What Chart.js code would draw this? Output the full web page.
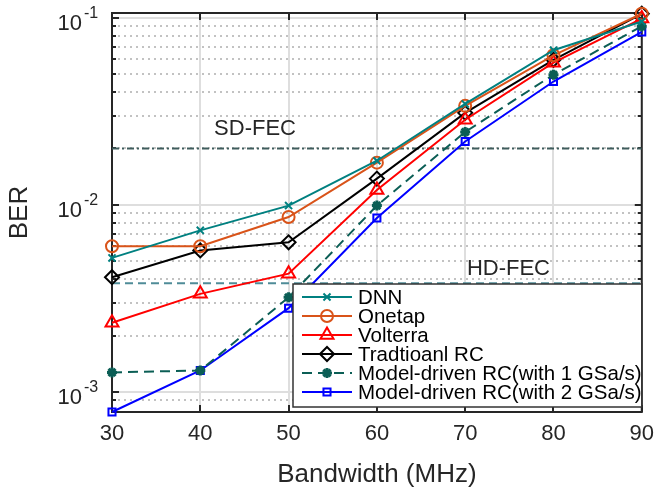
<!DOCTYPE html>
<html>
<head>
<meta charset="utf-8">
<script src="https://cdn.jsdelivr.net/npm/chart.js@4.4.1/dist/chart.umd.min.js"></script>
<style>
  html, body { margin: 0; padding: 0; background: #fff; }
</style>
</head>
<body>
<canvas id="berchart" width="663" height="491"></canvas>
<script>
// ---- data ----
var bandwidth = [30, 40, 50, 60, 70, 80, 90];
var berDNN      = [0.0052, 0.0073, 0.0099, 0.0172, 0.0346, 0.0670, 0.0955];
var berOnetap   = [0.0060, 0.0060, 0.0086, 0.0168, 0.0338, 0.0630, 0.1050];
var berVolterra = [0.00234, 0.00334, 0.00428, 0.0120, 0.0285, 0.0575, 0.0990];
var berTradRC   = [0.0041, 0.0057, 0.0063, 0.0138, 0.0310, 0.0596, 0.1050];
var berMD1      = [0.00127, 0.00130, 0.0032, 0.0099, 0.0245, 0.0496, 0.0900];
var berMD2      = [0.00078, 0.00130, 0.0028, 0.0085, 0.0218, 0.0456, 0.0840];
var sdFEC = 0.02;
var hdFEC = 0.0038;
var yTickValues = [1e-3, 1e-2, 1e-1];
var yTickExps = ['-3', '-2', '-1'];

var FONT = "'Liberation Sans', Arial, Helvetica, sans-serif";
var TXT = '#262626';

function pts(arr) {
    return bandwidth.map(function (b, i) { return { x: b, y: arr[i] }; });
}
function flat(v) {
    return [{ x: bandwidth[0], y: v }, { x: bandwidth[bandwidth.length - 1], y: v }];
}

// 'major' for decades, 'minor' for 2..9, 'none' otherwise (axis limits)
function tickKind(v) {
    var e = Math.floor(Math.log10(v) + 1e-9);
    var m = v / Math.pow(10, e);
    var r = Math.round(m);
    if (Math.abs(m - r) > 1e-6) return 'none';
    return r === 1 ? 'major' : 'minor';
}

function series(label, arr, color, style, radius, extra) {
    var d = {
        label: label,
        data: pts(arr),
        borderColor: color,
        borderWidth: 2,
        pointStyle: style,
        pointRadius: radius,
        pointBorderColor: color,
        pointBorderWidth: 2,
        pointBackgroundColor: 'rgba(0,0,0,0)',
        clip: false,
        inLegend: true
    };
    for (var k in extra) d[k] = extra[k];
    return d;
}

var frame = {
    id: 'frame',
    beforeDatasetsDraw: function (chart) {
        var ctx = chart.ctx, a = chart.chartArea;
        var xs = chart.scales.x, ys = chart.scales.y;
        ctx.save();
        ctx.strokeStyle = TXT;
        ctx.lineWidth = 2;
        // inside tick marks, MATLAB style
        ctx.beginPath();
        ys.ticks.forEach(function (t) {
            var k = tickKind(t.value);
            if (k === 'none') return;
            var len = k === 'major' ? 7 : 4;
            var py = Math.round(ys.getPixelForValue(t.value));
            ctx.moveTo(a.left, py); ctx.lineTo(a.left + len, py);
            ctx.moveTo(a.right, py); ctx.lineTo(a.right - len, py);
        });
        xs.ticks.forEach(function (t) {
            var px = Math.round(xs.getPixelForValue(t.value));
            ctx.moveTo(px, a.bottom); ctx.lineTo(px, a.bottom - 7);
            ctx.moveTo(px, a.top); ctx.lineTo(px, a.top + 7);
        });
        ctx.stroke();
        ctx.strokeRect(a.left, a.top, a.right - a.left, a.bottom - a.top);
        ctx.restore();
    },
    afterDatasetsDraw: function (chart) {
        var ctx = chart.ctx, a = chart.chartArea;
        var xs = chart.scales.x, ys = chart.scales.y;
        ctx.save();
        // y tick labels as 10^n
        ctx.fillStyle = TXT;
        ctx.textBaseline = 'alphabetic';
        yTickValues.forEach(function (v, i) {
            var py = ys.getPixelForValue(v);
            ctx.font = '22px ' + FONT;
            ctx.textAlign = 'right';
            ctx.fillText('10', a.left - 30, py + 12);
            ctx.font = '16px ' + FONT;
            ctx.textAlign = 'left';
            ctx.fillText(yTickExps[i], a.left - 28, py + 0.5);
        });

        // FEC labels
        ctx.font = '22px ' + FONT;
        ctx.textAlign = 'center';
        ctx.fillText('SD-FEC', xs.getPixelForValue(46.2), ys.getPixelForValue(sdFEC) - 13);
        ctx.fillText('HD-FEC', xs.getPixelForValue(74.9), ys.getPixelForValue(hdFEC) - 8);

        // legend box in lower right
        var lx = 293, ly = 284, lw = a.right - lx, lh = 123;
        ctx.fillStyle = '#fff';
        ctx.fillRect(lx, ly, lw, lh);
        ctx.strokeStyle = '#333';
        ctx.lineWidth = 1.5;
        ctx.strokeRect(lx, ly, lw, lh);

        var items = chart.data.datasets.filter(function (d) { return d.inLegend; });
        ctx.font = '20.5px ' + FONT;
        ctx.textAlign = 'left';
        ctx.textBaseline = 'middle';
        items.forEach(function (d, i) {
            var ry = ly + 13 + i * 19;
            ctx.strokeStyle = d.borderColor;
            ctx.lineWidth = 2;
            ctx.setLineDash(d.borderDash || []);
            ctx.beginPath();
            ctx.moveTo(lx + 9, ry); ctx.lineTo(lx + 59, ry);
            ctx.stroke();
            ctx.setLineDash([]);
            ctx.fillStyle = 'rgba(0,0,0,0)';
            ctx.lineWidth = d.pointBorderWidth;
            Chart.helpers.drawPoint(ctx, { pointStyle: d.pointStyle, radius: d.pointRadius, borderWidth: d.pointBorderWidth, rotation: 0 }, lx + 34, ry);
            ctx.fillStyle = '#000';
            ctx.fillText(d.label, lx + 65, ry + 1);
        });
        ctx.restore();
    }
};

var ctx = document.getElementById('berchart').getContext('2d');

var berChart = new Chart(ctx, {
    type: 'line',
    data: {
        datasets: [
            series('DNN', berDNN, '#008080', 'crossRot', 5, {}),
            series('Onetap', berOnetap, '#D95319', 'circle', 6, {}),
            series('Volterra', berVolterra, '#FF0000', 'triangle', 7.5, {}),
            series('Tradtioanl RC', berTradRC, '#000000', 'rectRot', 7, {}),
            series('Model-driven RC(with 1 GSa/s)', berMD1, '#0B5E55', 'star', 5, { borderDash: [10, 6], pointBorderWidth: 3 }),
            series('Model-driven RC(with 2 GSa/s)', berMD2, '#0000FF', 'rect', 5, {}),
            {
                label: 'SD-FEC', data: flat(sdFEC), borderColor: '#3E5C5C', borderWidth: 2,
                borderDash: [7, 3, 2, 3], pointRadius: 0
            },
            {
                label: 'HD-FEC', data: flat(hdFEC), borderColor: '#4F8C98', borderWidth: 2,
                borderDash: [8, 5], pointRadius: 0
            }
        ]
    },
    options: {
        responsive: false,
        animation: false,
        layout: { padding: { top: 13, right: 13, left: 0, bottom: 0 } },
        elements: { line: { tension: 0 } },
        scales: {
            x: {
                type: 'linear',
                min: 30,
                max: 90,
                afterFit: function (s) { s.height = 79; },
                ticks: {
                    stepSize: 10,
                    color: TXT,
                    padding: 9,
                    font: { family: FONT, size: 22 }
                },
                grid: { color: '#dedede', lineWidth: 2, drawTicks: false },
                border: { display: false },
                title: {
                    display: true,
                    text: 'Bandwidth (MHz)',
                    color: TXT,
                    font: { family: FONT, size: 26 },
                    padding: { top: 0, bottom: 1 }
                }
            },
            y: {
                type: 'logarithmic',
                min: 7.8e-4,
                max: 0.106,
                afterFit: function (s) { s.width = 112; },
                ticks: { display: false, autoSkip: false },
                grid: {
                    drawTicks: false,
                    lineWidth: 2,
                    color: function (c) {
                        if (!c.tick) return 'rgba(0,0,0,0)';
                        var k = tickKind(c.tick.value);
                        if (k === 'major') return '#dedede';
                        if (k === 'minor') return '#c2c2c2';
                        return 'rgba(0,0,0,0)';
                    }
                },
                border: {
                    display: false,
                    dash: function (c) {
                        if (c.tick && tickKind(c.tick.value) === 'minor') return [2, 4];
                        return [];
                    }
                },
                title: {
                    display: true,
                    text: 'BER',
                    color: TXT,
                    font: { family: FONT, size: 26 },
                    padding: { top: 4, bottom: 0 }
                }
            }
        },
        plugins: {
            legend: { display: false },
            tooltip: { enabled: false }
        }
    },
    plugins: [frame]
});
</script>
</body>
</html>
